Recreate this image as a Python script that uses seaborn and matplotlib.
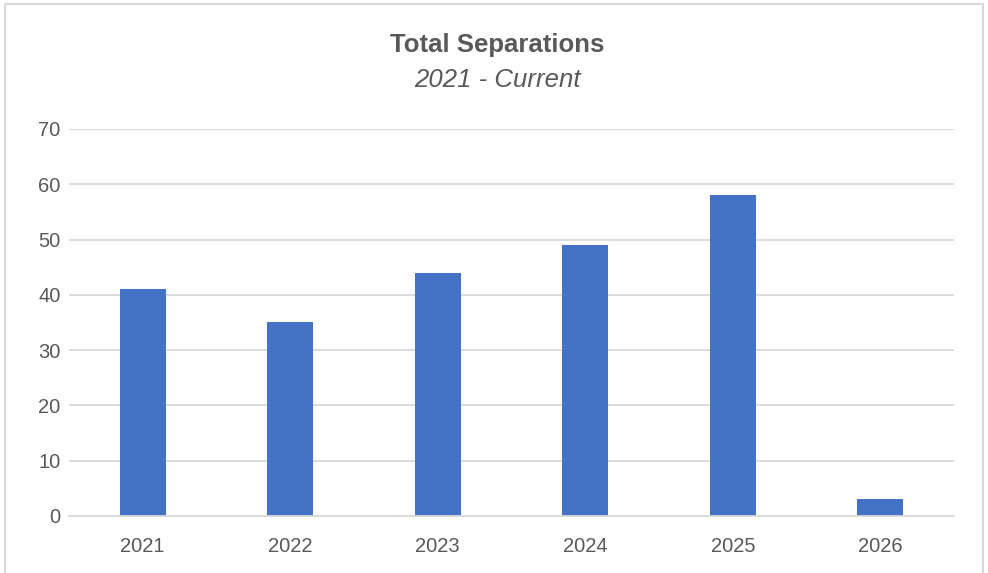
import pandas as pd
import seaborn as sns
import matplotlib.pyplot as plt
from matplotlib.patches import Rectangle

# Chart data
years = ["2021", "2022", "2023", "2024", "2025", "2026"]
separations = [41, 35, 44, 49, 58, 3]

df = pd.DataFrame({"year": years, "separations": separations})

sns.set_style("white")
plt.rcParams['font.family'] = ['Liberation Sans', 'DejaVu Sans']

text_color = "#595959"
grid_color = "#D9D9D9"
bar_color = "#4472C4"

fig = plt.figure(figsize=(9.88, 5.73), dpi=100)
ax = fig.add_axes([0.0698, 0.0995, 0.8958, 0.6755])

sns.barplot(data=df, x="year", y="separations", color=bar_color,
            width=0.31, linewidth=0, saturation=1, ax=ax)

# Axes styling
ax.set_ylim(0, 70)
ax.set_xlim(-0.5, 5.5)
ax.set_yticks(range(0, 71, 10))
ax.set_xlabel("")
ax.set_ylabel("")
ax.yaxis.grid(True, color=grid_color, linewidth=1.3)
ax.set_axisbelow(True)
for side in ["top", "right", "left"]:
    ax.spines[side].set_visible(False)
ax.spines["bottom"].set_color(grid_color)
ax.spines["bottom"].set_linewidth(1.3)
ax.tick_params(axis="x", length=0, pad=15, labelsize=14.5, labelcolor=text_color)
ax.tick_params(axis="y", length=0, pad=6, labelsize=14.5, labelcolor=text_color)

# Title and subtitle
fig.text(0.503, 0.91, "Total Separations", ha="center", va="baseline",
         fontsize=18.5, fontweight="bold", color=text_color)
fig.text(0.503, 0.848, "2021 - Current", ha="center", va="baseline",
         fontsize=18.5, fontstyle="italic", color=text_color)

# Light frame around the chart
fig.patches.append(Rectangle((0.005, -0.01), 0.99, 1.003, transform=fig.transFigure,
                             fill=False, edgecolor=grid_color, linewidth=1.5))

fig.savefig("out.png", dpi=100)
